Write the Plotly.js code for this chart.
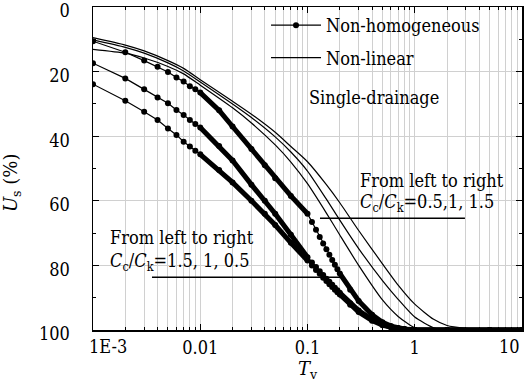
<!DOCTYPE html>
<html><head><meta charset="utf-8">
<script src="https://cdn.plot.ly/plotly-3.0.1.min.js"></script>
<style>html,body{margin:0;padding:0;background:#fff}#chart{width:525px;height:388px}</style>
</head><body><div id="chart"></div>
<script>
// ---- Non-homogeneous (dotted curves), time factor samples ----
const T_nh = [0.001,0.002,0.003,0.004,0.005,0.006,0.007,0.008,0.009,0.01,0.015,0.02,0.03,0.04,0.05,0.07,0.1,
  0.11,0.12,0.13,0.14,0.15,0.16,0.17,0.18,0.19,0.2,0.25,0.3,0.4,0.5,0.6,0.7,0.8,1,2,5,10];
const U_nh_05 = [10.6,14.0,16.6,18.5,20.1,21.8,23.1,24.5,25.5,26.5,32,37,44,49,53,58.5,64,
  66.6,69,71.2,73.2,75,76.7,78.3,79.8,81.2,82.5,87.5,91,95.3,97.6,98.8,99.4,99.7,100,100,100,100];
const U_nh_10 = [17.4,22.1,25.5,28,29.8,31.9,33.4,35,36.2,37.3,43,47.5,55,60,64,70.5,77.5,
  79.1,80.5,81.8,83,84.1,85.1,86,86.9,87.7,88.5,91.7,94,96.8,98.3,99.1,99.5,99.8,100,100,100,100];
const U_nh_15 = [23.9,29,32.4,35,37.6,39.6,41.7,43.2,44.5,45.6,50.5,54.3,60,64,67.5,73,78.5,
  80,81.4,82.6,83.8,84.8,85.8,86.7,87.5,88.3,89,92.2,94.4,97.1,98.5,99.2,99.6,99.8,100,100,100,100];

// ---- Non-linear (plain curves) ----
const T_nl = [0.001,0.002,0.003,0.005,0.007,0.01,0.02,0.03,0.05,0.07,0.1,0.15,0.2,0.3,0.5,0.7,1,1.5,2,3,5,10];
const U_nl_05 = [13.1,14.3,15.8,18.4,20.7,24.2,31.2,35.9,42.7,48,54.7,63.8,70.6,80,90.7,95.8,99.3,100,100,100,100,100];
const U_nl_10 = [10.2,12.5,14.3,17.3,19.8,23.2,30,34.2,40.2,44.9,50.8,59.5,66,74.8,84.7,90.5,96,99.3,100,100,100,100];
const U_nl_15 = [9.5,11.8,13.6,16.6,19,22.5,29.2,33.2,38.8,43.2,47.9,55,60.6,69.2,79.5,86.1,92,96.7,98.6,99.5,100,100];

// axis tick labels (end labels are set inside the frame, as in the source figure)
const xTickVals = [0.001,0.01,0.1,1,10];
const xTickText = ['','0.01','0.1','1',''];
const xFirstLabel = '1E-3';
const xLastLabel = '10';
const yTickVals = [0,20,40,60,80,100];

const traces = [];
// dense dotted portions drawn as a thick band (where markers merge)
function bandY(T,U){ return U.map((u,i)=> (T[i]>=0.01 && (T[i]<=0.1 || T[i]>=0.2)) ? u : null); }
[[U_nh_05,true],[U_nh_10,false],[U_nh_15,false]].forEach(([U,leg])=>{
  traces.push({x:T_nh, y:U, type:'scatter', mode:'lines+markers', name:'Non-homogeneous',
    legendgroup:'nh', showlegend:leg, line:{color:'#000',width:1.2}, marker:{color:'#000',size:6}, hoverinfo:'skip'});
  traces.push({x:T_nh, y:bandY(T_nh,U), type:'scatter', mode:'lines', showlegend:false, connectgaps:false,
    line:{color:'#000',width:5}, hoverinfo:'skip'});
});
[[U_nl_05,true],[U_nl_10,false],[U_nl_15,false]].forEach(([U,leg])=>{
  traces.push({x:T_nl, y:U, type:'scatter', mode:'lines', name:'Non-linear', legendgroup:'nl', showlegend:leg,
    line:{color:'#000',width:1.2,shape:'spline',smoothing:0.6}, hoverinfo:'skip'});
});

const minorX = [];
for (let e=-3;e<1;e++){ for(let m=2;m<=9;m++){ minorX.push(m*Math.pow(10,e)); } }

const grid = '#d0d0d0';
const SERIF = 'DejaVu Serif Condensed, DejaVu Serif';
const tf = {family:SERIF,size:18,color:'#000'};
const af = {family:SERIF,size:18,color:'#000'};
const ttf = {family:'DejaVu Serif',size:18,color:'#000'};
const layout = {
  width:525, height:388,
  margin:{l:93,r:3,t:7,b:58},
  paper_bgcolor:'#fff', plot_bgcolor:'#fff',
  font:af,
  showlegend:true,
  legend:{x:0.4033, y:1.0, xanchor:'left', yanchor:'top', bgcolor:'rgba(0,0,0,0)',
    font:af, traceorder:'grouped', tracegroupgap:6, itemwidth:50},
  xaxis:{type:'log', range:[-3,1], tickmode:'array', tickvals:xTickVals, ticktext:xTickText,
    ticks:'inside', ticklen:6, tickwidth:1, tickcolor:'#000', ticklabelstandoff:1,
    showline:true, linecolor:'#000', linewidth:1.5, mirror:'ticks',
    showgrid:true, gridcolor:grid, gridwidth:1, zeroline:false, automargin:false,
    minor:{tickmode:'array', tickvals:minorX, ticks:'inside', ticklen:3, tickcolor:'#000', showgrid:true, gridcolor:grid, gridwidth:1},
    tickfont:tf,
    title:{text:'<i>T</i><sub>v</sub>', font:ttf, standoff:4}},
  yaxis:{range:[100,0], tickmode:'array', tickvals:yTickVals,
    ticks:'inside', ticklen:6, tickwidth:1, tickcolor:'#000', ticklabelstandoff:18, ticklabelshift:-4,
    showline:true, linecolor:'#000', linewidth:1.5, mirror:'ticks',
    showgrid:true, gridcolor:grid, gridwidth:1, zeroline:false, automargin:false,
    minor:{tickmode:'array', tickvals:[10,30,50,70,90], ticks:'inside', ticklen:3, tickcolor:'#000', showgrid:false},
    tickfont:tf,
    title:{text:'<i>U</i><sub>s</sub> (%)\u00a0\u00a0\u00a0\u00a0\u00a0\u200b', font:ttf, standoff:19}},
  shapes:[
    {type:'line', xref:'paper', yref:'y', x0:0.5291, x1:0.867, y0:65.4, y1:65.4, line:{color:'#000',width:1.5}},
    {type:'line', xref:'paper', yref:'y', x0:0.1375, x1:0.5804, y0:83.7, y1:83.7, line:{color:'#000',width:1.5}}
  ],
  annotations:[
    {text:xFirstLabel, xref:'paper', yref:'paper', x:0, y:0, xanchor:'left', yanchor:'top', xshift:-6, yshift:-4, showarrow:false, font:tf},
    {text:xLastLabel, xref:'paper', yref:'paper', x:1, y:0, xanchor:'right', yanchor:'top', yshift:-4, showarrow:false, font:tf},
    {text:'Single-drainage', xref:'paper', yref:'y', x:0.4988, y:27.9, xanchor:'left', yanchor:'middle', showarrow:false, font:af},
    {text:'From left to right', xref:'paper', yref:'y', x:0.6177, y:53.6, xanchor:'left', yanchor:'middle', showarrow:false, font:af},
    {text:'<i>C</i><sub>c</sub>/<i>C</i><sub>k</sub>=0.5,1, 1.5', xref:'paper', yref:'y', x:0.6177, y:60.7, xanchor:'left', yanchor:'middle', showarrow:false, font:af},
    {text:'From left to right', xref:'paper', yref:'y', x:0.035, y:71.5, xanchor:'left', yanchor:'middle', showarrow:false, font:af},
    {text:'<i>C</i><sub>c</sub>/<i>C</i><sub>k</sub>=1.5, 1, 0.5', xref:'paper', yref:'y', x:0.035, y:79, xanchor:'left', yanchor:'middle', showarrow:false, font:af}
  ]
};
Plotly.newPlot('chart', traces, layout, {staticPlot:true, displayModeBar:false});
</script></body></html>
